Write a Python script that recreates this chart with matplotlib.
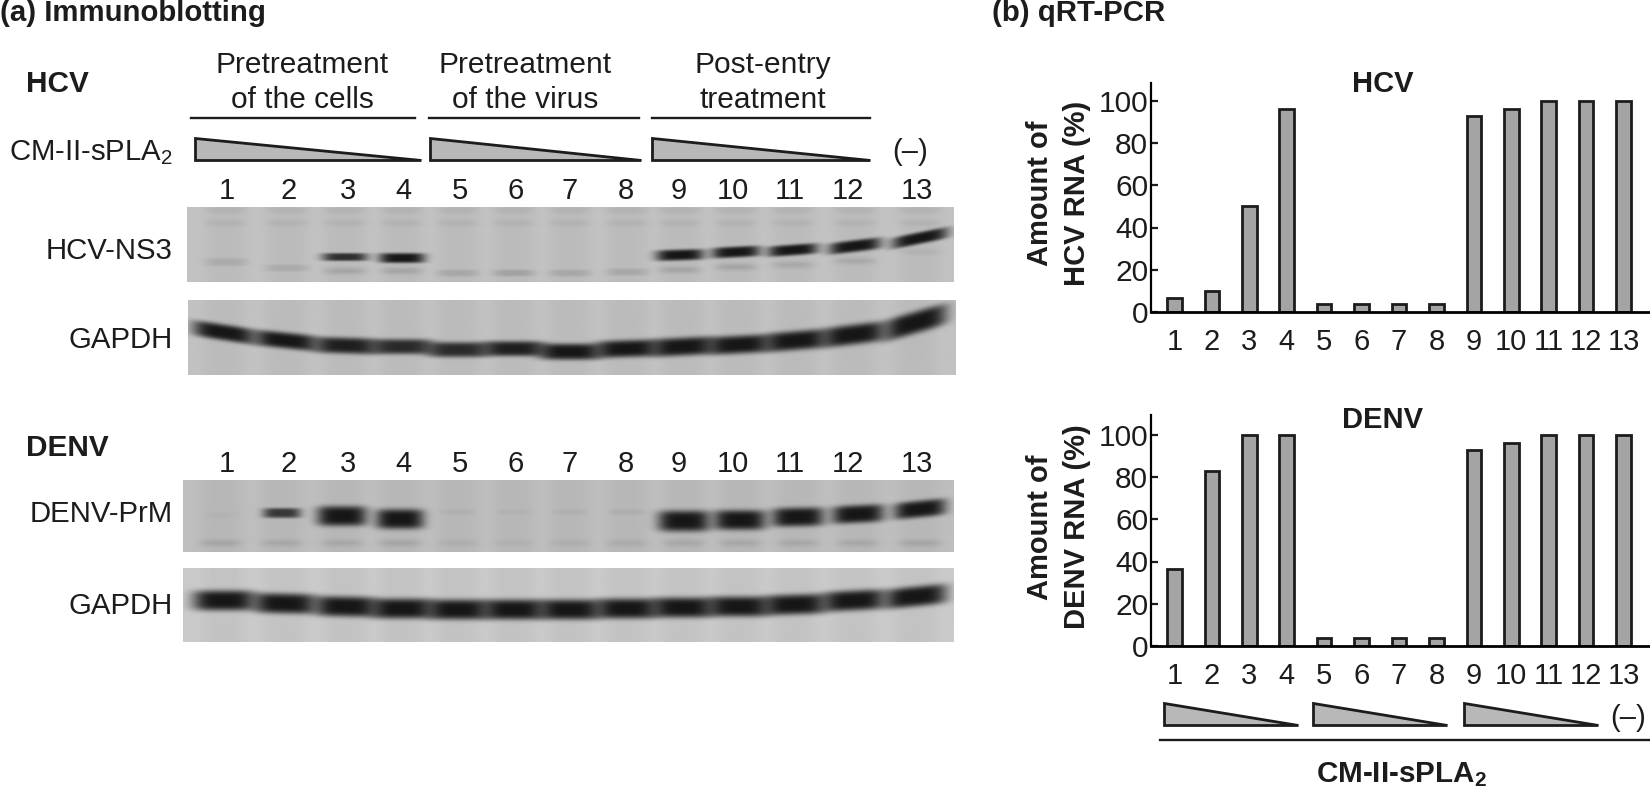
import numpy as np
import matplotlib
matplotlib.use('Agg')
import matplotlib.pyplot as plt
from matplotlib.patches import Polygon

plt.rcParams['font.family'] = ['Liberation Sans', 'DejaVu Sans']
plt.rcParams['mathtext.fontset'] = 'custom'
plt.rcParams['mathtext.rm'] = 'Liberation Sans'
plt.rcParams['mathtext.bf'] = 'Liberation Sans:bold'
plt.rcParams['mathtext.default'] = 'regular'

W, H = 1650, 788

# qRT-PCR values
lanes = list(range(1, 14))
hcv_rna = [6.5, 10, 50, 96.5, 3.5, 3.5, 3.5, 3.5, 93, 96.5, 100, 100, 100]
denv_rna = [36.5, 83, 100, 100, 3.5, 3.5, 3.5, 3.5, 93, 96.5, 100, 100, 100]

# blot bands, one entry per lane
ns3_x = [226, 287, 345, 402, 458, 514, 570, 627, 680, 736, 793, 855, 920]
ns3_y = [262, 268, 257, 258, 273, 273, 273, 272, 255, 252, 250, 246, 238]
ns3_dark = [.1, .1, .85, 1, .12, .15, .12, .12, 1, 1, 1, 1, 1]
ns3_w = [22, 22, 23, 23, 21, 21, 21, 21, 24, 24, 25, 26, 28]
ns3_h = [4, 3.5, 4, 5, 3.5, 3.5, 3.5, 3.5, 5.5, 5.5, 5.5, 6, 6]
ns3_tilt = [0, 0, 0, 0, 0, 0, 0, 0, -.03, -.05, -.07, -.12, -.2]
ns3_low_y = [271, 271, 271, 271, 0, 0, 0, 0, 270, 267, 265, 261, 252]
ns3_low_dark = [0, 0, .12, .12, 0, 0, 0, 0, .12, .12, .1, .1, .05]

gapdh1_x = [224, 286, 346, 402, 458, 514, 570, 627, 683, 739, 796, 854, 916]
gapdh1_y = [333, 341, 346, 347, 350, 349, 352, 349, 347, 345, 341, 335, 323]
gapdh1_dark = [1, 1, .95, .88, .88, .95, 1, 1, 1, 1, 1, 1, 1]
gapdh1_h = [8, 8, 8, 7.5, 7.5, 7.5, 8, 8.5, 9, 9, 9.5, 10, 11]
gapdh1_tilt = [.15, .1, .03, 0, 0, 0, 0, -.03, -.05, -.05, -.08, -.12, -.28]

prm_x = [221, 282, 342, 400, 458, 514, 570, 627, 684, 740, 798, 858, 920]
prm_y = [515, 513, 516, 519, 512, 512, 512, 512, 521, 520, 517, 514, 509]
prm_dark = [.02, .8, 1, 1, .04, .03, .04, .06, 1, 1, 1, 1, 1]
prm_w = [20, 19, 25, 24, 18, 18, 18, 18, 26, 26, 26, 26, 26]
prm_h = [4, 5, 10, 10, 3, 3, 3, 3, 10.5, 10, 9.5, 9, 8.5]
prm_tilt = [0, 0, 0, 0, 0, 0, 0, 0, 0, 0, -.02, -.05, -.1]
prm_low_dark = [.1, .09, .09, .1, .05, .04, .05, .07, .09, .09, .09, .09, .1]

gapdh2_x = [224, 285, 346, 402, 458, 514, 570, 627, 683, 739, 795, 854, 916]
gapdh2_y = [601, 604, 607, 609, 610, 610, 610, 609, 608, 607, 605, 601, 597]
gapdh2_tilt = [0, .02, .02, 0, 0, 0, 0, 0, 0, 0, -.03, -.05, -.1]

# labels
lane_label_x = [227, 289, 348, 403, 460, 516, 570, 626, 679, 733, 790, 848, 917]
groups = ['Pretreatment\nof the cells', 'Pretreatment\nof the virus', 'Post-entry\ntreatment']


def make_blot(box, bg, xs, ys, dark, w, h, tilt, faint=()):
    '''box is left, top, right, bottom in figure pixels'''
    left, top, right, bottom = box
    xx, yy = np.meshgrid(np.arange(left, right) + .5, np.arange(top, bottom) + .5)
    img = np.full(xx.shape, float(bg))
    for x0 in xs:
        img -= 7 * np.exp(-((xx - x0) / 21)**4)
    # faint rows first, then the real bands
    for fy, fd in faint:
        for x0, y0, d in zip(xs, fy, fd):
            a = np.exp(-((xx - x0) / 21)**4 - ((yy - y0) / 3.5)**2)
            img = img * (1 - a * d)
    for i, x0 in enumerate(xs):
        dx = xx - x0
        dy = yy - (ys[i] + tilt[i] * dx)
        a = np.exp(-((dx / w[i])**4 + (dy / h[i])**4))
        img = img * (1 - a * dark[i]) + 22 * a * dark[i]
    return img


def show_blot(img, box):
    left, top, right, bottom = box
    ax = fig.add_axes([left / W, 1 - bottom / H, (right - left) / W, (bottom - top) / H])
    ax.imshow(img, cmap='gray', vmin=0, vmax=255, aspect='auto', interpolation='bilinear')
    ax.axis('off')


def rna_panel(y_top, y_zero, values):
    ax = fig.add_axes([1151 / W, 1 - y_zero / H, (W - 1151) / W, (y_zero - y_top) / H])
    ax.bar(lanes, values, width=.39, color='#a4a4a4', edgecolor='#1c1c1c', linewidth=2)
    ax.set_xlim(.37, 13.71)
    ax.set_ylim(0, (y_zero - y_top) / 2.105)
    ax.set_yticks(range(0, 101, 20))
    ax.set_xticks(lanes)
    ax.tick_params(axis='y', direction='in', length=5, width=1.6, labelsize=21.5, pad=2, colors='#1c1c1c')
    ax.tick_params(axis='x', length=0, labelsize=21, pad=12, colors='#1c1c1c')
    ax.spines['top'].set_visible(False)
    ax.spines['right'].set_visible(False)
    ax.spines['left'].set_linewidth(1.6)
    ax.spines['bottom'].set_linewidth(2)
    ax.patch.set_alpha(0)


fig = plt.figure(figsize=(W / 100, H / 100), dpi=100)

n = len(lanes)
box1 = (187, 207, 954, 282)
box2 = (188, 300, 956, 375)
box3 = (183, 480, 954, 552)
box4 = (183, 568, 954, 642)
show_blot(make_blot(box1, 194, ns3_x, ns3_y, ns3_dark, ns3_w, ns3_h, ns3_tilt,
                    faint=[([210] * n, [.05] * n), ([223] * n, [.05] * n),
                           (ns3_low_y, ns3_low_dark)]), box1)
show_blot(make_blot(box2, 194, gapdh1_x, gapdh1_y, gapdh1_dark, [31] * n, gapdh1_h, gapdh1_tilt), box2)
show_blot(make_blot(box3, 190, prm_x, prm_y, prm_dark, prm_w, prm_h, prm_tilt,
                    faint=[([543] * n, prm_low_dark)]), box3)
show_blot(make_blot(box4, 202, gapdh2_x, gapdh2_y, [1] * n, [31] * n, [10] * n, gapdh2_tilt), box4)

rna_panel(82.7, 311.7, hcv_rna)
rna_panel(415, 645.7, denv_rna)

# everything else is placed on one overlay in pixel coordinates
ov = fig.add_axes([0, 0, 1, 1])
ov.set_xlim(0, W)
ov.set_ylim(H, 0)
ov.axis('off')
ov.patch.set_alpha(0)
ink = '#1c1c1c'


def label(x, y, s, size=21, ha='center', weight='normal', rotation=0):
    ov.text(x, y, s, fontsize=size, ha=ha, va='center', fontweight=weight, rotation=rotation, color=ink)


def wedge(x0, x1, y0, y1):
    ov.add_patch(Polygon([(x0, y0), (x0, y1), (x1, y1)], closed=True, facecolor='#b8b8b8',
                         edgecolor=ink, linewidth=2))


label(0, 13, '(a) Immunoblotting', size=21.2, ha='left', weight='bold')
label(992, 13, '(b) qRT-PCR', size=21.2, ha='left', weight='bold')
label(26, 84, 'HCV', size=21.4, ha='left', weight='bold')
label(26, 448, 'DENV', size=21.4, ha='left', weight='bold')

for s, cx in zip(groups, [302, 525, 763]):
    top, bot = s.split('\n')
    label(cx, 65, top, size=21.5)
    label(cx, 100, bot, size=21.5)
for x0, x1 in [(191, 415), (429, 639), (652, 870)]:
    ov.plot([x0, x1], [118, 118], color=ink, lw=1.7)
for x0, x1 in [(195, 421), (430, 641), (652, 870)]:
    wedge(x0, x1, 138, 160)

label(173, 153, r'CM-II-sPLA$_2$', ha='right', size=21.2)
label(910, 152, '(–)')
for x, name in zip(lane_label_x, lanes):
    label(x, 191, str(name))
    label(x, 464, str(name))
label(173, 251, 'HCV-NS3', ha='right', size=21.2)
label(173, 340, 'GAPDH', ha='right', size=21.2)
label(173, 514, 'DENV-PrM', ha='right', size=21.2)
label(173, 606, 'GAPDH', ha='right', size=21.2)

label(1383, 84, 'HCV', weight='bold')
label(1383, 420, 'DENV', weight='bold')
label(1040, 193, 'Amount of', weight='bold', rotation=90)
label(1077, 193, 'HCV RNA (%)', weight='bold', rotation=90)
label(1040, 527, 'Amount of', weight='bold', rotation=90)
label(1077, 527, 'DENV RNA (%)', weight='bold', rotation=90)

for x0, x1 in [(1164, 1298), (1313, 1447), (1464, 1598)]:
    wedge(x0, x1, 703, 725)
label(1628, 718, '(–)')
ov.plot([1160, W], [740, 740], color=ink, lw=1.7)
label(1402, 775, r'CM-II-sPLA$_{\mathbf{2}}$', size=21.3, weight='bold')

fig.savefig('out.png', dpi=100)
